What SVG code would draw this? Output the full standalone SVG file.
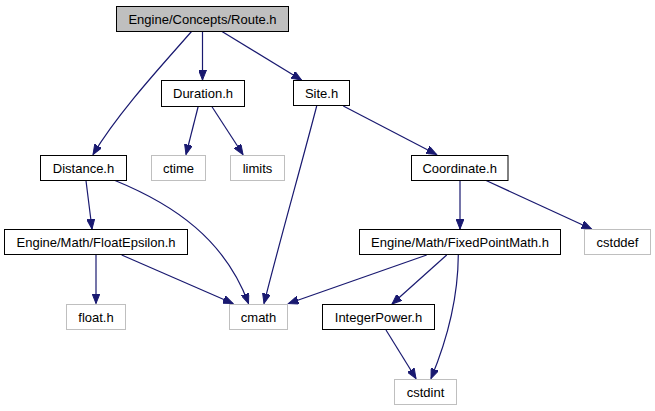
<svg xmlns="http://www.w3.org/2000/svg" width="655" height="411" viewBox="0 0 655 411">
<style>
.n rect{fill:#fff;stroke:#000;stroke-width:1}
.g rect{fill:#fff;stroke:#bfbfbf;stroke-width:1}
.r rect{fill:#bfbfbf;stroke:#000;stroke-width:1}
text{font-family:"Liberation Sans",Arial,sans-serif;font-size:13px;fill:#000;text-anchor:middle}
.e path{fill:none;stroke:#191970;stroke-width:1.2;marker-end:url(#a)}
</style>
<defs>
<marker id="a" markerUnits="userSpaceOnUse" markerWidth="11" markerHeight="8" refX="10" refY="4" orient="auto" viewBox="0 0 11 8">
<path d="M0,0 L10,4 L0,8 z" fill="#191970" stroke="#191970"/>
</marker>
</defs>
<rect width="655" height="411" fill="#fff"/>
<g class="e" id="edges">
<path d="M202.5,31.5 L202.5,80"/>
<path d="M222,31.5 L301.5,80"/>
<path d="M191.5,31.5 C165,62 120,110 93,154.5"/>
<path d="M198.3,106 L186,154.5"/>
<path d="M211.5,106 L243,154.5"/>
<path d="M316.7,106 C300,170 280,240 264,303.5"/>
<path d="M343.3,106 L436.5,154.5"/>
<path d="M86,180.5 L92,229"/>
<path d="M115,180.5 C175,205 225,240 248.5,303.5"/>
<path d="M96,255 L96,303.5"/>
<path d="M121.7,255 L233,303.5"/>
<path d="M460,180 L460,229"/>
<path d="M485,180 L591.5,229"/>
<path d="M426.7,255 L288.5,303.5"/>
<path d="M446.7,255 L392,304"/>
<path d="M458.3,255 C458,300 445,345 431,378.5"/>
<path d="M386,330 L416,378.5"/>
</g>
<g class="r" id="route"><rect x="116.5" y="6.5" width="172" height="25"/><text x="202.5" y="23.5">Engine/Concepts/Route.h</text></g>
<g class="n" id="duration"><rect x="161.5" y="80.5" width="83" height="26"/><text x="203" y="98">Duration.h</text></g>
<g class="n" id="site"><rect x="293.5" y="80.5" width="56" height="25"/><text x="321.5" y="97.5">Site.h</text></g>
<g class="n" id="distance"><rect x="40.5" y="155.5" width="86" height="25"/><text x="83.5" y="172.5">Distance.h</text></g>
<g class="g" id="ctime"><rect x="151.5" y="155.5" width="54" height="25"/><text x="178.5" y="172.5">ctime</text></g>
<g class="g" id="limits"><rect x="230.5" y="155.5" width="54" height="25"/><text x="257.5" y="172.5">limits</text></g>
<g class="n" id="coordinate"><rect x="411.5" y="155.5" width="96.5" height="25"/><text x="459.7" y="172.5">Coordinate.h</text></g>
<g class="n" id="floateps"><rect x="4.5" y="229.5" width="183" height="25"/><text x="96" y="246.5">Engine/Math/FloatEpsilon.h</text></g>
<g class="n" id="fixedpoint"><rect x="359.5" y="229.5" width="201" height="25"/><text x="460" y="246.5">Engine/Math/FixedPointMath.h</text></g>
<g class="g" id="cstddef"><rect x="584.5" y="229.5" width="66" height="25"/><text x="617.5" y="246.5">cstddef</text></g>
<g class="g" id="floath"><rect x="66.5" y="304.5" width="59" height="25"/><text x="96" y="321.5">float.h</text></g>
<g class="g" id="cmath"><rect x="229.5" y="304.5" width="58" height="25"/><text x="258.5" y="321.5">cmath</text></g>
<g class="n" id="intpower"><rect x="322.5" y="304.5" width="112" height="25"/><text x="378.5" y="321.5">IntegerPower.h</text></g>
<g class="g" id="cstdint"><rect x="394.5" y="379.5" width="62" height="25"/><text x="425.5" y="396.5">cstdint</text></g>
</svg>
